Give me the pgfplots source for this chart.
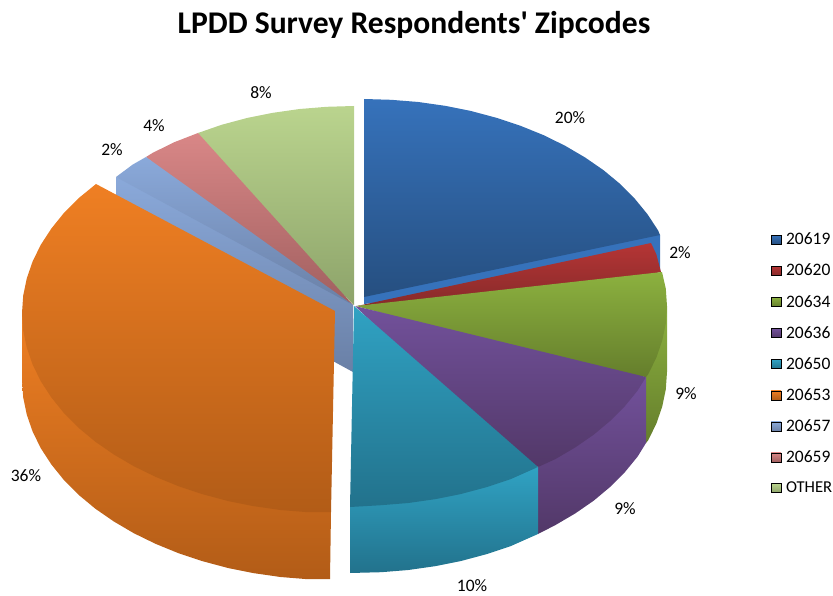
\documentclass[border=0pt]{standalone}
\usepackage{pgfplots}
\pgfplotsset{compat=1.18}
\usepackage{fontspec}
\setmainfont{Carlito}
% Face colours of the nine slices: light end, dark end
\definecolor{blueA}{HTML}{3672BB}\definecolor{blueB}{HTML}{264F80}
\definecolor{redA}{HTML}{B53535}\definecolor{redB}{HTML}{872A2A}
\definecolor{greenA}{HTML}{8CB13F}\definecolor{greenB}{HTML}{657E2C}
\definecolor{purpA}{HTML}{72519B}\definecolor{purpB}{HTML}{523868}
\definecolor{cyanA}{HTML}{30A2C3}\definecolor{cyanB}{HTML}{22728C}
\definecolor{orngA}{HTML}{EF7F23}\definecolor{orngB}{HTML}{B25C17}
\definecolor{periA}{HTML}{8AA9DA}\definecolor{periB}{HTML}{6A80A6}
\definecolor{roseA}{HTML}{D98787}\definecolor{roseB}{HTML}{A05F5F}
\definecolor{oliveA}{HTML}{BAD48E}\definecolor{oliveB}{HTML}{8DA36A}
\pgfplotsset{
  face/.style n args={2}{forget plot, draw=none, mark=none, sharp plot, top color=#1, bottom color=#2},
  swatch/.style n args={2}{legend image code/.code={
    \path[top color=#1, bottom color=#2] (0pt,-4.5pt) rectangle (10pt,4.5pt);
    \path (14.7pt,0pt);}},
}
\newcommand{\pct}[1]{\fontsize{17.5}{17.5}\selectfont #1\%}
\begin{document}
\begin{tikzpicture}
\useasboundingbox (0,0) rectangle (833pt,596pt);
\begin{axis}[
  at={(0,0)}, anchor=south west, scale only axis,
  width=833pt, height=596pt,
  xmin=0, xmax=833, ymin=0, ymax=596, y dir=reverse,
  hide axis, clip=false,
  legend cell align=left,
  legend style={at={(axis cs:771,233)}, anchor=north west, draw=none, fill=none,
    inner sep=0pt, outer sep=0pt, font=\fontsize{17.5}{17.5}\selectfont,
    row sep=17.8pt, nodes={inner sep=0pt, outer sep=0pt}},
]
% OTHER
\addplot[face={oliveA}{oliveB}] coordinates {(354,305) (230,185) (198,133) (221.6,124.8) (247,118) (273,112.8) (299.6,109) (326.8,106.8) (354,106)} -- cycle;
% 20659
\addplot[face={roseA}{roseB}] coordinates {(353,305) (250,240) (146,157) (152.8,152.8) (174.3,142.2) (198,133)} -- cycle;
% 20657: cut face, then top face; the exploded 20653 slice lies over both
\addplot[face={periA}{periB}] coordinates {(116,177) (240,230) (353,305) (353,372) (116,243)} -- cycle;
\addplot[face={periA}{periB}] coordinates {(353,305) (116,177) (132.7,164.6) (146,157)} -- cycle;
% 20619: cut face, top face
\addplot[face={blueA}{blueA}] coordinates {(364,290) (650,232) (660,235) (660,272) (364,304)} -- cycle;
\addplot[face={blueA}{blueB}] coordinates {(364,297) (364,99) (391,99.8) (418.4,102) (445,105.8) (471,111) (496.4,117.8) (520.5,125.8) (543.7,135.2) (565.2,145.8) (585.3,157.6) (603.8,170.4) (620.4,184.2) (635,199) (647.6,214.4) (658.2,230.6) (660,235)} -- cycle;
% 20620
\addplot[face={redA}{redB}] coordinates {(357,306) (600,285) (661,272) (656.3,254.2) (651,243)} -- cycle;
% 20634: side, top
\addplot[face={greenA}{greenB}] coordinates {(667,306) (646,377) (646,443) (648.1,440.4) (656.3,423.8) (662.2,406.7) (665.8,389.4) (667,372)} -- cycle;
\addplot[face={greenA}{greenB}] coordinates {(356,306) (662,272) (665.8,288.6) (667,306) (665.8,323.4) (662.2,340.7) (656.3,357.8) (648.1,374.4) (646,377) (600,372)} -- cycle;
% 20636: side, top
\addplot[face={purpA}{purpB}] coordinates {(538,467) (646,377) (646,443) (637.6,456.6) (625,472) (610.3,486.8) (593.8,500.6) (575.3,513.4) (555.2,525.2) (538,534)} -- cycle;
\addplot[face={purpA}{purpB}] coordinates {(355,306) (646,377) (637.6,390.6) (625,406) (610.3,420.8) (593.8,434.6) (575.3,447.4) (555.2,459.2) (538,467) (500,445)} -- cycle;
% 20650: side, top
\addplot[face={cyanA}{cyanB}] coordinates {(350,507) (538,467) (538,534) (510.5,546.2) (486.4,554.2) (461,561) (435,566.2) (408.4,570) (381.2,572.2) (350,573)} -- cycle;
\addplot[face={cyanA}{cyanB}] coordinates {(354,306) (538,467) (510.5,479.2) (486.4,487.2) (461,494) (435,499.2) (408.4,503) (381.2,505.2) (350,507)} -- cycle;
% 20653: side, top
\addplot[face={orngA}{orngB}] coordinates {(22,313) (331,512) (330,579) (307.7,579.2) (280.5,577) (254,573.2) (228,568) (202.6,561.2) (178.5,553.2) (155.5,543.8) (133.8,533.2) (113.7,521.4) (95.2,508.6) (78.6,494.8) (63.9,480) (51.4,464.5) (40.9,448.4) (32.7,431.8) (26.8,414.7) (23.2,397.4) (22,380)} -- cycle;
\addplot[face={orngA}{orngB}] coordinates {(96,184) (335,311) (331,512) (307.7,512.2) (280.5,510) (254,506.2) (228,501) (202.6,494.2) (178.5,486.2) (155.5,476.8) (133.8,466.2) (113.7,454.4) (95.2,441.6) (78.6,427.8) (63.9,413) (51.4,397.5) (40.9,381.4) (32.7,364.8) (26.8,347.7) (23.2,330.4) (22,313) (23.2,295.6) (26.8,278.3) (32.7,261.2) (40.9,244.6) (51.4,228.5) (63.9,213) (78.6,198.2)} -- cycle;
% Percentage labels
\node at (axis cs:570,118) {\pct{20}};
\node at (axis cs:680,253) {\pct{2}};
\node at (axis cs:686,394) {\pct{9}};
\node at (axis cs:625,509) {\pct{9}};
\node at (axis cs:472,586) {\pct{10}};
\node at (axis cs:26,476) {\pct{36}};
\node at (axis cs:112,150) {\pct{2}};
\node at (axis cs:154,126) {\pct{4}};
\node at (axis cs:261,93) {\pct{8}};
% Title
\node at (axis cs:414,24.5) {\fontsize{31.6}{31.6}\selectfont\bfseries LPDD Survey Respondents\textquotesingle\ Zipcodes};
% Legend
\addlegendimage{swatch={blueA}{blueB}}\addlegendentry{20619}
\addlegendimage{swatch={redA}{redB}}\addlegendentry{20620}
\addlegendimage{swatch={greenA}{greenB}}\addlegendentry{20634}
\addlegendimage{swatch={purpA}{purpB}}\addlegendentry{20636}
\addlegendimage{swatch={cyanA}{cyanB}}\addlegendentry{20650}
\addlegendimage{swatch={orngA}{orngB}}\addlegendentry{20653}
\addlegendimage{swatch={periA}{periB}}\addlegendentry{20657}
\addlegendimage{swatch={roseA}{roseB}}\addlegendentry{20659}
\addlegendimage{swatch={oliveA}{oliveB}}\addlegendentry{\fontsize{16.6}{16.6}\selectfont OTHER}
\end{axis}
\end{tikzpicture}
\end{document}
